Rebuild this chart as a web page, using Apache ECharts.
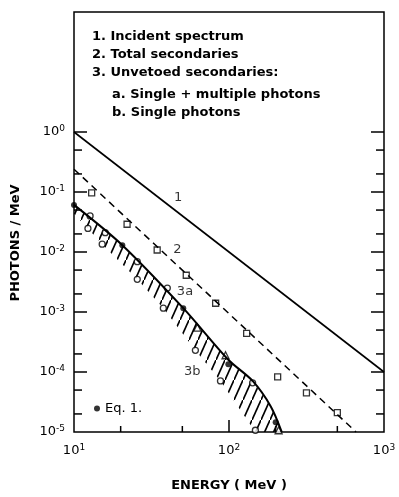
<!DOCTYPE html>
<html>
<head>
<meta charset="utf-8">
<script src="https://cdn.jsdelivr.net/npm/echarts@6/dist/echarts.min.js"></script>
<style>
  html, body { margin: 0; padding: 0; background: #fff; }
  #chart { width: 399px; height: 497px; }
</style>
</head>
<body>
<div id="chart"></div>
<script>
// 1. incident spectrum
const incidentE = [10, 1000];
const incidentY = [1, 1e-4];

// 2. total secondaries: dashed fit and the square points
const totalLineE = [10, 660];
const totalLineY = [0.24, 1e-5];
const totalPtE = [13, 22, 34.4, 53, 82, 130, 206, 316, 500];
const totalPtY = [0.097, 0.029, 0.0108, 0.0041, 0.0014, 4.4e-4, 8.3e-5, 4.5e-5, 2.1e-5];

// 3a. upper edge of the band (solid line)
const upperE = [10, 20.5, 50.7, 99, 142, 186, 219];
const upperY = [0.061, 0.013, 0.00116, 1.6e-4, 7.1e-5, 2.67e-5, 1e-5];
// 3b. lower edge of the hatched band
const lowerE = [10, 12.3, 15.2, 25.6, 37.7, 60.7, 88.1, 148];
const lowerY = [0.0436, 0.0247, 0.0135, 0.0035, 0.00116, 2.3e-4, 7.1e-5, 1e-5];

// measured points
const circleAE = [12.7, 15.9, 25.6, 40, 142];
const circleAY = [0.040, 0.021, 0.0069, 0.0025, 6.6e-5];
const circleBE = [12.3, 15.2, 25.6, 37.7, 60.7, 88.1, 148];
const circleBY = [0.0247, 0.0135, 0.0035, 0.00116, 2.3e-4, 7.1e-5, 1.07e-5];
const triE = [62.5, 95, 209];
const triY = [5.5e-4, 1.9e-4, 1.07e-5];
const eqE = [10, 20.5, 50.7, 99, 200];
const eqY = [0.061, 0.013, 0.00116, 1.35e-4, 1.46e-5];

// curve tags
const tagText = ['1', '2', '3a', '3b'];
const tagE = [47, 46.5, 52, 58];
const tagY = [0.08, 0.0108, 0.0022, 1e-4];

// inward tick marks
const xMajorTicks = [100];
const xMinorTicks = [20, 50, 200, 500];
const yMajorTicks = [1, 0.1, 0.01, 1e-3, 1e-4];
const yMinorTicks = [0.5, 0.2, 0.05, 0.02, 5e-3, 2e-3, 5e-4, 2e-4, 5e-5, 2e-5];

const noteLines = ['1. Incident spectrum', '2. Total secondaries', '3. Unvetoed secondaries:',
  'a. Single + multiple photons', 'b. Single photons'];

const zip = (a, b) => a.map((v, i) => [v, b[i]]);

const tickData = [];
xMajorTicks.forEach(v => tickData.push([v, 1e-5, 0, -12]));
xMinorTicks.forEach(v => tickData.push([v, 1e-5, 0, -6]));
yMajorTicks.forEach(v => { tickData.push([10, v, 13, 0]); tickData.push([1000, v, -13, 0]); });
yMinorTicks.forEach(v => { tickData.push([10, v, 8, 0]); tickData.push([1000, v, -8, 0]); });

// diagonal hatch pattern
const hatch = document.createElement('canvas');
hatch.width = 9;
hatch.height = 20;
const hctx = hatch.getContext('2d');
hctx.strokeStyle = '#000';
hctx.lineWidth = 1.7;
hctx.beginPath();
hctx.moveTo(0, 20);
hctx.lineTo(9, 0);
hctx.stroke();

const chart = echarts.init(document.getElementById('chart'));

const supLabel = v => {
  const n = Math.round(Math.log10(v));
  return '{b|10}{s|' + n + '}';
};
const richLabel = {
  b: { fontSize: 13, fontFamily: 'DejaVu Sans', color: '#000' },
  s: { fontSize: 9, fontFamily: 'DejaVu Sans', color: '#000', verticalAlign: 'bottom', padding: [0, 0, 7, 0] }
};

const notes = noteLines.map((t, i) => ({
  type: 'text',
  left: i < 3 ? 92 : 112,
  top: [30, 48, 66, 88, 106][i],
  style: { text: t, fontSize: 13, fontWeight: 'bold', fontFamily: 'DejaVu Sans', fill: '#000' }
}));

chart.setOption({
  backgroundColor: '#fff',
  animation: false,
  grid: { left: 74, right: 15, top: 12, bottom: 59, show: true, borderColor: '#000', borderWidth: 1.5 },
  legend: {
    data: ['Eq. 1.'],
    left: 94, top: 402, padding: 0,
    itemWidth: 6, itemHeight: 6, itemGap: 4,
    textStyle: { fontSize: 13, fontFamily: 'DejaVu Sans', color: '#000' }
  },
  graphic: notes,
  xAxis: {
    type: 'log', logBase: 10, min: 10, max: 1000, interval: 1,
    name: 'ENERGY ( MeV )', nameLocation: 'middle', nameGap: 47,
    nameTextStyle: { fontSize: 13, fontWeight: 'bold', fontFamily: 'DejaVu Sans', color: '#000' },
    axisLine: { show: false }, axisTick: { show: false }, splitLine: { show: false },
    axisLabel: { margin: 11, formatter: supLabel, rich: richLabel }
  },
  yAxis: {
    type: 'log', logBase: 10, min: 1e-5, max: 100, interval: 1,
    name: 'PHOTONS / MeV', nameLocation: 'middle', nameGap: 52,
    nameTextStyle: { fontSize: 13, fontWeight: 'bold', fontFamily: 'DejaVu Sans', color: '#000', padding: [0, 42, 0, 0] },
    axisLine: { show: false }, axisTick: { show: false }, splitLine: { show: false },
    axisLabel: {
      margin: 9, rich: richLabel,
      formatter: v => (Math.round(Math.log10(v)) > 0 ? '' : supLabel(v))
    }
  },
  series: [
    {
      type: 'custom', name: 'hatch', silent: true, clip: true,
      data: [[20, 0.01]],
      renderItem: (params, api) => {
        const pts = upperE.map((e, i) => api.coord([e, upperY[i]]));
        for (let i = lowerE.length - 1; i >= 0; i--) pts.push(api.coord([lowerE[i], lowerY[i]]));
        return { type: 'polygon', shape: { points: pts }, style: { fill: { image: hatch, repeat: 'repeat' }, stroke: null } };
      }
    },
    {
      type: 'line', name: 'incident', data: zip(incidentE, incidentY),
      symbol: 'none', lineStyle: { color: '#000', width: 1.6 }
    },
    {
      type: 'line', name: 'total', data: zip(totalLineE, totalLineY),
      symbol: 'none', lineStyle: { color: '#000', width: 1.5, type: [7, 5] }
    },
    {
      type: 'line', name: '3a', data: zip(upperE, upperY), smooth: 0.3,
      symbol: 'none', lineStyle: { color: '#000', width: 2 }
    },
    {
      type: 'scatter', name: 'total pts', data: zip(totalPtE, totalPtY),
      symbol: 'rect', symbolSize: 6,
      itemStyle: { color: '#fff', borderColor: '#000', borderWidth: 1.3 }
    },
    {
      type: 'scatter', name: '3a pts', data: zip(circleAE, circleAY),
      symbol: 'circle', symbolSize: 6,
      itemStyle: { color: '#fff', borderColor: '#000', borderWidth: 1.3 }
    },
    {
      type: 'scatter', name: '3b pts', data: zip(circleBE, circleBY),
      symbol: 'circle', symbolSize: 6,
      itemStyle: { color: '#fff', borderColor: '#000', borderWidth: 1.3 }
    },
    {
      type: 'scatter', name: 'tri pts', data: zip(triE, triY),
      symbol: 'triangle', symbolSize: 7,
      itemStyle: { color: '#fff', borderColor: '#000', borderWidth: 1.3 }
    },
    {
      type: 'scatter', name: 'Eq. 1.', data: zip(eqE, eqY),
      symbol: 'circle', symbolSize: 6,
      itemStyle: { color: '#000' }
    },
    {
      type: 'scatter', name: 'tags', silent: true, symbolSize: 0,
      data: tagText.map((t, i) => [tagE[i], tagY[i], t]),
      label: {
        show: true, position: 'inside', formatter: p => p.data[2],
        fontSize: 13, fontFamily: 'DejaVu Sans', color: '#000', textBorderWidth: 0
      }
    },
    {
      type: 'custom', name: 'ticks', silent: true, clip: false,
      encode: { x: 0, y: 1 },
      data: tickData,
      renderItem: (params, api) => {
        const p = api.coord([api.value(0), api.value(1)]);
        return {
          type: 'line',
          shape: { x1: p[0], y1: p[1], x2: p[0] + api.value(2), y2: p[1] + api.value(3) },
          style: { stroke: '#000', lineWidth: 1.5 }
        };
      }
    }
  ]
});
</script>
</body>
</html>
